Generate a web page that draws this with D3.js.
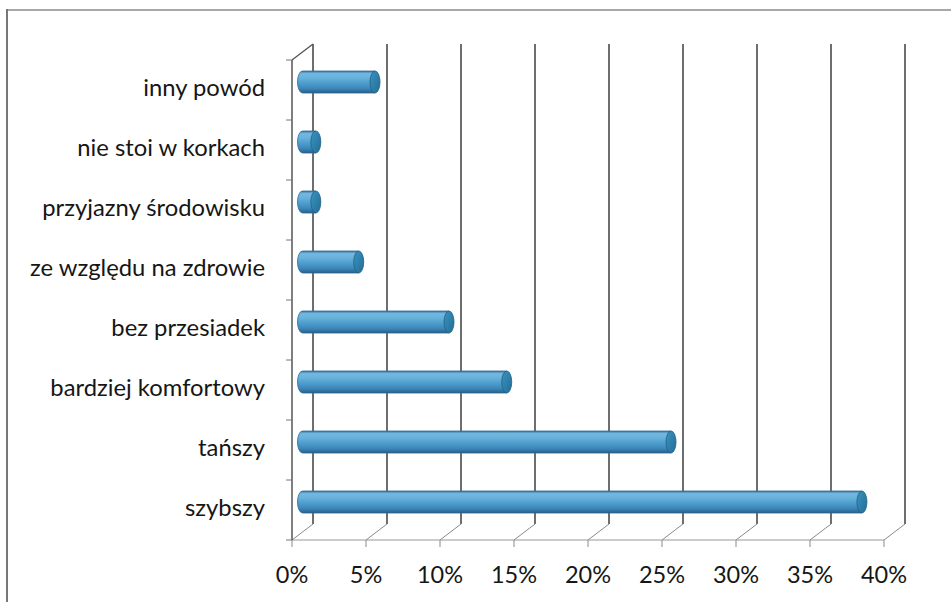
<!DOCTYPE html>
<html>
<head>
<meta charset="utf-8">
<script src="https://cdn.jsdelivr.net/npm/d3@7"></script>
<style>
  html, body { margin: 0; padding: 0; background: #ffffff; }
  svg { display: block; }
  text { font-family: Lato, "Open Sans", sans-serif; fill: #161616; }
</style>
</head>
<body>
<svg id="chart" width="951" height="602"></svg>
<script>
// ---- data ----
const categories = ["inny powód", "nie stoi w korkach", "przyjazny środowisku", "ze względu na zdrowie", "bez przesiadek", "bardziej komfortowy", "tańszy", "szybszy"];
const values = [4.9, 0.9, 0.9, 3.8, 9.9, 13.8, 24.9, 37.8];
const tickValues = [0, 5, 10, 15, 20, 25, 30, 35, 40];
const tickLabels = ["0%", "5%", "10%", "15%", "20%", "25%", "30%", "35%", "40%"];

// ---- layout ----
const svg = d3.select("#chart");
const depthX = 21, depthY = -16;
const x = d3.scaleLinear().domain([0, 40]).range([292, 884]);
const y = d3.scaleBand().domain(categories).range([60, 540]);
const floorY = y.range()[1], topY = y.range()[0];

const defs = svg.append("defs");
const grad = defs.append("linearGradient").attr("id", "cyl").attr("x1", 0).attr("y1", 0).attr("x2", 0).attr("y2", 1);
[["0%", "#3577a8"], ["12%", "#74b8df"], ["30%", "#6ab2dc"], ["55%", "#4e9dcd"], ["80%", "#3b86b8"], ["100%", "#285f88"]]
  .forEach(([o, c]) => grad.append("stop").attr("offset", o).attr("stop-color", c));
const capGrad = defs.append("linearGradient").attr("id", "cap").attr("x1", 0).attr("y1", 0).attr("x2", 1).attr("y2", 1);
[["0%", "#3a94c0"], ["100%", "#226d96"]].forEach(([o, c]) => capGrad.append("stop").attr("offset", o).attr("stop-color", c));

// outer frame
svg.append("line").attr("x1", 6).attr("x2", 951).attr("y1", 10).attr("y2", 10).attr("stroke", "#a8a8a8").attr("stroke-width", 2);
svg.append("line").attr("x1", 7).attr("x2", 7).attr("y1", 9).attr("y2", 602).attr("stroke", "#777").attr("stroke-width", 2);

// back wall gridlines
svg.append("g").selectAll("line").data(tickValues).join("line")
  .attr("x1", d => x(d) + depthX).attr("x2", d => x(d) + depthX)
  .attr("y1", topY + depthY).attr("y2", floorY + depthY)
  .attr("stroke", "#4a4a4a").attr("stroke-width", 1.6);
// floor diagonals
svg.append("g").selectAll("line").data(tickValues).join("line")
  .attr("x1", d => x(d) + depthX).attr("x2", d => x(d))
  .attr("y1", floorY + depthY).attr("y2", floorY)
  .attr("stroke", "#8a8a8a").attr("stroke-width", 1);
// front floor line + ticks
svg.append("line").attr("x1", x(0)).attr("x2", x(40)).attr("y1", floorY).attr("y2", floorY).attr("stroke", "#9a9a9a").attr("stroke-width", 1.2);
svg.append("g").selectAll("line").data(tickValues).join("line")
  .attr("x1", d => x(d)).attr("x2", d => x(d)).attr("y1", floorY).attr("y2", floorY + 7)
  .attr("stroke", "#8a8a8a").attr("stroke-width", 1);

// left wall
svg.append("line").attr("x1", x(0)).attr("x2", x(0)).attr("y1", topY).attr("y2", floorY).attr("stroke", "#555").attr("stroke-width", 1.5);
svg.append("line").attr("x1", x(0)).attr("x2", x(0) + depthX).attr("y1", topY).attr("y2", topY + depthY).attr("stroke", "#555").attr("stroke-width", 1.3);
const bounds = categories.map(c => y(c)).concat([floorY]);
svg.append("g").selectAll("line").data(bounds).join("line")
  .attr("x1", x(0) - 6).attr("x2", x(0)).attr("y1", d => d).attr("y2", d => d)
  .attr("stroke", "#777").attr("stroke-width", 1);

// bars (cylinders at mid-depth)
const ry = 11, rx = 5;
const bars = svg.append("g").selectAll("g").data(categories).join("g");
bars.each(function(c, i) {
  const g = d3.select(this);
  const cy = y(c) + y.bandwidth() / 2 + depthY / 2;
  const x0 = x(0) + depthX / 2, x1 = x(values[i]) + depthX / 2;
  const body = `M${x1},${cy - ry} L${x0},${cy - ry} A${rx},${ry} 0 0 0 ${x0},${cy + ry} L${x1},${cy + ry} Z`;
  g.append("path").attr("d", body).attr("fill", "url(#cyl)").attr("stroke", "#2c6890").attr("stroke-width", 0.8);
  g.append("ellipse").attr("cx", x1).attr("cy", cy).attr("rx", rx).attr("ry", ry)
    .attr("fill", "url(#cap)").attr("stroke", "#215f86").attr("stroke-width", 0.8);
});

// category labels
svg.append("g").selectAll("text").data(categories).join("text")
  .attr("x", 265).attr("y", c => y(c) + y.bandwidth() / 2 + 6)
  .attr("text-anchor", "end").attr("font-size", 23.8).text(c => c);

// x tick labels
svg.append("g").selectAll("text").data(tickValues).join("text")
  .attr("x", d => x(d)).attr("y", 583)
  .attr("text-anchor", "middle").attr("font-size", 23.5).text((d, i) => tickLabels[i]);
</script>
</body>
</html>
